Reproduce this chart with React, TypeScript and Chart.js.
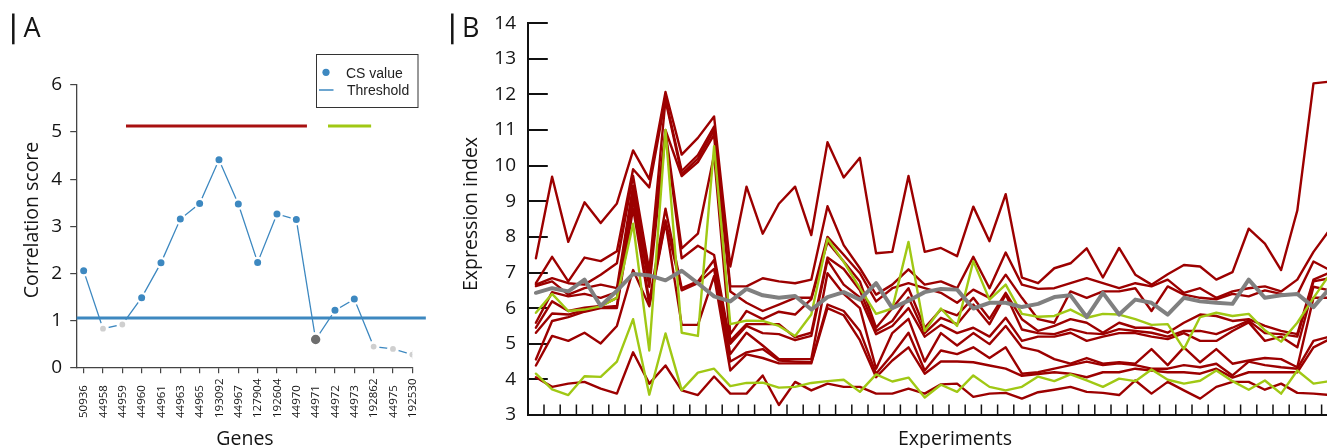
import React, { useEffect, useRef } from "react";
import { Chart, registerables } from "chart.js";
Chart.register(...registerables);

// ---------- Panel A data ----------
const genes = ["50936", "44958", "44959", "44960", "44961", "44963", "44965", "193092", "44967", "127904", "192604", "44970", "44971", "44972", "44973", "192862", "44975", "192530"];
const csValues = [2.05, 0.82, 0.91, 1.48, 2.22, 3.15, 3.48, 4.41, 3.47, 2.23, 3.26, 3.14, 0.59, 1.21, 1.45, 0.44, 0.39, 0.27];
const csGroup = ["in", "out", "out", "in", "in", "in", "in", "in", "in", "in", "in", "in", "target", "in", "in", "out", "out", "out"];
const threshold = 1.05;
const redCluster = [2.19, 11.55];
const greenCluster = [12.64, 14.87];
const clusterLevel = 5.13;
const yTicksA = [0, 1, 2, 3, 4, 5, 6];

// ---------- Panel B data ----------
const experiments = Array.from({ length: 50 }, (_, i) => String(i + 1));
const yTicksB = [3, 4, 5, 6, 7, 8, 9, 10, 11, 12, 13, 14];
const expRed1 = [7.40, 9.69, 7.86, 8.97, 8.39, 8.94, 10.43, 9.62, 12.07, 10.31, 10.78, 11.38, 7.17, 9.41, 8.09, 8.93, 9.41, 8.05, 10.66, 9.67, 10.22, 7.54, 7.58, 9.71, 7.58, 7.69, 7.46, 8.85, 7.88, 9.20, 6.86, 6.70, 7.12, 7.26, 7.68, 6.86, 7.69, 6.94, 6.66, 6.95, 7.21, 7.17, 6.80, 7.01, 8.23, 7.81, 7.07, 8.74, 12.31, 12.36];
const expRed2 = [6.70, 7.44, 6.75, 7.42, 7.32, 7.60, 9.90, 9.39, 11.89, 9.85, 10.30, 11.10, 6.61, 6.61, 6.84, 6.75, 6.70, 6.80, 8.86, 7.77, 7.12, 6.38, 6.66, 7.09, 6.66, 6.75, 6.56, 7.44, 6.56, 7.56, 6.66, 6.54, 6.56, 6.70, 6.84, 6.70, 6.56, 6.70, 6.61, 6.80, 6.43, 6.56, 6.29, 6.47, 6.56, 6.61, 6.47, 6.80, 7.58, 8.20];
const expRed3 = [6.66, 6.84, 6.70, 6.66, 6.94, 7.26, 9.71, 7.05, 11.84, 9.76, 10.20, 11.00, 6.47, 6.15, 5.92, 6.10, 6.29, 6.29, 8.00, 7.50, 6.98, 6.19, 6.56, 6.70, 6.56, 6.43, 6.15, 6.52, 6.29, 6.94, 6.29, 5.69, 5.59, 6.47, 6.29, 6.47, 6.47, 6.56, 5.92, 6.61, 6.38, 6.29, 6.25, 6.40, 6.33, 6.50, 6.40, 6.38, 7.31, 7.07];
const expRed4 = [6.62, 6.75, 6.38, 6.56, 6.66, 6.56, 9.44, 6.95, 11.00, 9.71, 10.10, 10.87, 5.27, 5.92, 5.69, 5.90, 5.82, 6.25, 7.86, 7.31, 6.75, 5.45, 6.00, 6.56, 5.45, 5.96, 5.80, 6.29, 5.70, 6.43, 5.69, 5.36, 5.50, 5.69, 5.59, 5.31, 5.59, 5.45, 5.45, 5.31, 5.59, 5.82, 5.78, 5.64, 5.69, 5.50, 5.36, 5.27, 6.80, 7.00];
const expRed5 = [5.59, 6.45, 6.33, 6.40, 6.29, 6.45, 9.34, 6.84, 10.95, 7.68, 8.09, 10.30, 5.08, 5.55, 5.55, 5.55, 5.18, 5.31, 7.42, 7.10, 6.50, 5.36, 5.64, 6.30, 5.30, 5.73, 5.55, 6.10, 5.55, 6.38, 5.40, 5.30, 5.27, 5.41, 5.30, 5.27, 5.41, 5.36, 5.31, 5.20, 5.36, 5.36, 5.27, 5.45, 5.65, 5.30, 5.27, 5.20, 6.75, 6.84];
const expRed6 = [5.45, 6.19, 5.92, 6.01, 6.06, 6.29, 9.20, 6.60, 10.87, 7.40, 7.75, 7.49, 5.00, 5.50, 5.30, 5.27, 5.10, 5.22, 7.35, 6.66, 6.30, 5.27, 5.50, 6.00, 5.20, 5.53, 5.30, 5.45, 5.20, 5.73, 5.08, 5.20, 5.20, 5.31, 5.08, 5.20, 5.30, 5.30, 5.20, 5.13, 5.30, 5.08, 5.08, 5.36, 5.60, 5.08, 5.20, 4.90, 6.60, 6.50];
const expRed7 = [5.31, 5.85, 5.82, 5.95, 6.02, 6.06, 9.06, 6.19, 8.79, 6.56, 6.75, 7.35, 4.71, 5.31, 4.95, 4.57, 4.57, 4.57, 6.98, 6.40, 6.00, 4.30, 5.30, 5.70, 4.50, 5.30, 4.95, 5.30, 4.99, 5.50, 4.90, 4.80, 4.57, 4.44, 4.60, 4.44, 4.48, 4.44, 4.85, 4.40, 4.90, 4.48, 4.85, 4.44, 4.53, 4.60, 4.57, 4.34, 6.29, 6.29];
const expRed8 = [4.56, 5.64, 5.75, 5.90, 6.00, 6.00, 8.80, 6.10, 8.46, 6.50, 6.70, 7.10, 4.50, 4.76, 4.85, 4.53, 4.50, 4.48, 6.10, 5.92, 5.36, 4.16, 4.70, 5.31, 4.25, 4.81, 4.71, 4.90, 4.60, 4.90, 4.16, 4.20, 4.30, 4.40, 4.50, 4.40, 4.45, 4.40, 4.30, 4.30, 4.40, 4.34, 4.44, 4.11, 4.50, 4.40, 4.34, 4.30, 5.08, 5.20];
const expRed9 = [4.39, 5.22, 5.08, 5.31, 5.01, 5.50, 7.07, 6.05, 8.40, 5.53, 5.53, 6.90, 4.25, 4.70, 4.60, 4.45, 4.45, 4.45, 6.00, 5.80, 5.10, 4.06, 4.53, 4.90, 4.16, 4.50, 4.50, 4.48, 4.39, 4.30, 4.10, 4.15, 4.20, 4.16, 4.06, 4.20, 4.20, 4.30, 4.25, 4.20, 4.20, 4.16, 4.30, 4.05, 4.20, 4.20, 4.20, 4.20, 4.90, 5.13];
const expRed10 = [4.06, 3.79, 3.88, 3.93, 3.74, 3.60, 4.76, 3.88, 4.39, 3.69, 3.56, 4.08, 3.60, 3.60, 4.11, 3.28, 3.93, 3.69, 3.88, 3.79, 3.79, 3.60, 3.60, 3.74, 3.60, 3.86, 3.88, 3.51, 3.60, 3.62, 3.46, 3.64, 3.71, 3.79, 3.65, 3.62, 3.56, 3.97, 3.60, 3.93, 3.69, 3.46, 3.79, 3.93, 3.93, 3.71, 3.88, 3.62, 3.60, 3.56];
const expGreen1 = [5.87, 6.40, 5.92, 5.96, 6.05, 6.29, 8.37, 4.81, 11.0, 5.31, 5.22, 10.55, 5.55, 5.65, 5.64, 5.50, 5.22, 5.82, 7.95, 7.30, 6.56, 5.84, 5.99, 7.86, 5.36, 5.99, 5.50, 7.32, 6.24, 6.66, 5.84, 5.76, 5.78, 5.96, 5.73, 5.84, 5.82, 5.69, 5.53, 5.55, 4.85, 5.75, 5.87, 5.78, 5.84, 5.38, 5.06, 5.59, 6.29, 6.95];
const expGreen2 = [4.16, 3.72, 3.56, 4.09, 4.07, 4.50, 5.69, 3.57, 5.29, 3.70, 4.19, 4.30, 3.81, 3.90, 3.91, 3.77, 3.79, 3.90, 3.95, 3.99, 3.65, 4.14, 3.94, 4.05, 3.49, 3.85, 3.65, 4.11, 3.79, 3.69, 3.79, 4.08, 3.95, 4.14, 3.97, 3.79, 4.02, 3.95, 4.28, 3.99, 3.88, 3.96, 4.25, 3.95, 3.71, 3.97, 3.60, 4.25, 3.88, 3.95];
const expGray = [6.43, 6.56, 6.47, 6.80, 6.06, 6.49, 6.96, 6.92, 6.78, 7.05, 6.70, 6.33, 6.19, 6.54, 6.36, 6.29, 6.34, 5.96, 6.31, 6.45, 6.24, 6.70, 6.00, 6.21, 6.45, 6.54, 6.52, 5.99, 6.15, 6.15, 6.03, 6.12, 6.31, 6.36, 5.75, 6.43, 5.82, 6.24, 6.15, 5.82, 6.29, 6.19, 6.15, 6.12, 6.80, 6.29, 6.36, 6.40, 6.03, 6.56];
const redSeries = [expRed1, expRed2, expRed3, expRed4, expRed5, expRed6, expRed7, expRed8, expRed9, expRed10];

// ---------- styles ----------
const BLUE = "#3d88c0";
const RED = "#9c0000";
const GREEN = "#a0c814";
const GRAY = "#808080";
const TEXT = "#141414";
const FONT = "'Open Sans', 'Noto Sans', sans-serif";

const panelAPlugin = {
  id: "panelA",
  afterDraw(chart: any) {
    const ctx = chart.ctx;
    const x = chart.scales.x;
    ctx.save();
    // panel label
    ctx.strokeStyle = TEXT;
    ctx.lineWidth = 2.5;
    ctx.beginPath();
    ctx.moveTo(13.3, 13.5);
    ctx.lineTo(13.3, 44.3);
    ctx.stroke();
    ctx.fillStyle = TEXT;
    ctx.font = `27px ${FONT}`;
    ctx.textAlign = "left";
    ctx.textBaseline = "alphabetic";
    ctx.fillText("A", 23.5, 36.8);
    // axis titles
    ctx.font = `19.5px ${FONT}`;
    ctx.textAlign = "center";
    ctx.fillText("Genes", 245, 444.5);
    ctx.save();
    ctx.translate(38, 220);
    ctx.rotate(-Math.PI / 2);
    ctx.fillText("Correlation score", 0, 0);
    ctx.restore();
    // rotated gene labels
    ctx.font = `11.5px ${FONT}`;
    ctx.textAlign = "left";
    ctx.textBaseline = "middle";
    genes.forEach((g, i) => {
      const px = x.getPixelForValue(i);
      ctx.save();
      ctx.translate(px, 418);
      ctx.rotate(-Math.PI / 2);
      ctx.fillText(g, 0, 0.5);
      ctx.restore();
    });
    // legend
    ctx.strokeStyle = "#333";
    ctx.lineWidth = 1;
    ctx.strokeRect(316.5, 54.5, 101.5, 53);
    ctx.fillStyle = BLUE;
    ctx.beginPath();
    ctx.arc(326, 72.3, 3.6, 0, Math.PI * 2);
    ctx.fill();
    ctx.strokeStyle = BLUE;
    ctx.lineWidth = 1.5;
    ctx.beginPath();
    ctx.moveTo(319, 90);
    ctx.lineTo(333.5, 90);
    ctx.stroke();
    ctx.fillStyle = "#222";
    ctx.font = "14px 'Liberation Sans', Arial, sans-serif";
    ctx.textAlign = "left";
    ctx.textBaseline = "alphabetic";
    ctx.fillText("CS value", 346, 78.3);
    ctx.fillText("Threshold", 347, 95);
    ctx.restore();
  },
};

const panelBPlugin = {
  id: "panelB",
  beforeDatasetsDraw(chart: any) {
    const ctx = chart.ctx;
    const { left, bottom } = chart.chartArea;
    const x = chart.scales.x;
    const y = chart.scales.y;
    ctx.save();
    ctx.strokeStyle = "#111";
    ctx.lineWidth = 2;
    yTicksB.slice(1).forEach((v) => {
      const py = Math.round(y.getPixelForValue(v)) + 0;
      ctx.beginPath();
      ctx.moveTo(left, py);
      ctx.lineTo(left + 20, py);
      ctx.stroke();
    });
    ctx.lineWidth = 1.5;
    for (let i = 1; i < experiments.length; i++) {
      const px = (x.getPixelForValue(i - 1) + x.getPixelForValue(i)) / 2;
      ctx.beginPath();
      ctx.moveTo(px, bottom);
      ctx.lineTo(px, bottom - 10.5);
      ctx.stroke();
    }
    ctx.restore();
  },
  afterDraw(chart: any) {
    const ctx = chart.ctx;
    ctx.save();
    ctx.strokeStyle = TEXT;
    ctx.lineWidth = 2.5;
    ctx.beginPath();
    ctx.moveTo(12.3, 13.5);
    ctx.lineTo(12.3, 44.3);
    ctx.stroke();
    ctx.fillStyle = TEXT;
    ctx.font = `27px ${FONT}`;
    ctx.textAlign = "left";
    ctx.textBaseline = "alphabetic";
    ctx.fillText("B", 22, 36.8);
    ctx.font = `19.5px ${FONT}`;
    ctx.textAlign = "center";
    ctx.fillText("Experiments", 515, 444.5);
    ctx.save();
    ctx.translate(37, 214);
    ctx.rotate(-Math.PI / 2);
    ctx.fillText("Expression index", 0, 0);
    ctx.restore();
    ctx.restore();
  },
};

function pointProp(inV: number, outV: number, tV: number) {
  return csGroup.map((g) => (g === "in" ? inV : g === "out" ? outV : tV));
}

export default function App() {
  const refA = useRef<HTMLCanvasElement>(null);
  const refB = useRef<HTMLCanvasElement>(null);

  useEffect(() => {
    const chartA = new Chart(refA.current as HTMLCanvasElement, {
      type: "line",
      data: {
        datasets: [
          {
            label: "Threshold",
            data: [{ x: -0.36, y: threshold }, { x: 17.7, y: threshold }],
            borderColor: BLUE,
            borderWidth: 3,
            pointRadius: 0,
            clip: false as any,
            order: 0,
          },
          {
            label: "CS value",
            data: genes.map((_, i) => ({ x: i, y: csValues[i] })),
            borderColor: BLUE,
            borderWidth: 1.3,
            pointRadius: pointProp(4.75, 4.4, 6.1),
            pointBorderWidth: pointProp(2.5, 3, 2.8),
            pointBackgroundColor: csGroup.map((g) => (g === "in" ? BLUE : g === "out" ? "#cfcfcf" : "#6e6e6e")),
            pointBorderColor: "#ffffff",
            order: 1,
          },
          {
            label: "red cluster",
            data: [{ x: redCluster[0], y: clusterLevel }, { x: redCluster[1], y: clusterLevel }],
            borderColor: "#a81010",
            borderWidth: 3,
            pointRadius: 0,
            order: 2,
          },
          {
            label: "green cluster",
            data: [{ x: greenCluster[0], y: clusterLevel }, { x: greenCluster[1], y: clusterLevel }],
            borderColor: GREEN,
            borderWidth: 3,
            pointRadius: 0,
            order: 2,
          },
        ],
      },
      options: {
        animation: false,
        responsive: false,
        events: [],
        layout: { padding: { top: 85, right: 27.7, left: 0, bottom: 0 } },
        plugins: { legend: { display: false }, tooltip: { enabled: false } },
        scales: {
          x: {
            type: "linear",
            min: -0.36,
            max: 17,
            afterBuildTicks: (s: any) => {
              s.ticks = genes.map((_, i) => ({ value: i }));
            },
            afterFit: (s: any) => {
              s.height = 80.7;
            },
            ticks: { display: false },
            grid: { display: true, drawOnChartArea: false, drawTicks: true, tickLength: 6, color: "#444", lineWidth: 1.2 },
            border: { display: true, color: "#444", width: 1.3 },
          },
          y: {
            type: "linear",
            min: 0,
            max: 6,
            afterBuildTicks: (s: any) => {
              s.ticks = yTicksA.map((v) => ({ value: v }));
            },
            afterFit: (s: any) => {
              s.width = 76.7;
            },
            ticks: { font: { family: FONT, size: 19 }, color: TEXT, padding: 8 },
            grid: { display: true, drawOnChartArea: false, drawTicks: true, tickLength: 6.5, color: "#444", lineWidth: 1.2 },
            border: { display: true, color: "#444", width: 1.3 },
          },
        },
      } as any,
      plugins: [panelAPlugin],
    });

    const lineBase = { pointRadius: 0, borderJoinStyle: "round", borderCapStyle: "round", tension: 0, fill: false };
    const chartB = new Chart(refB.current as HTMLCanvasElement, {
      type: "line",
      data: {
        labels: experiments,
        datasets: [
          { ...lineBase, label: "gray", data: expGray, borderColor: GRAY, borderWidth: 4, order: 0 },
          { ...lineBase, label: "green1", data: expGreen1, borderColor: GREEN, borderWidth: 2.4, order: 1 },
          { ...lineBase, label: "green2", data: expGreen2, borderColor: GREEN, borderWidth: 2.4, order: 1 },
          ...redSeries.map((d, i) => ({ ...lineBase, label: "red" + (i + 1), data: d, borderColor: RED, borderWidth: 2.4, order: 2 })),
        ] as any,
      },
      options: {
        animation: false,
        responsive: false,
        events: [],
        layout: { padding: { top: 19.3, right: 2.2, left: 0, bottom: 0 } },
        plugins: { legend: { display: false }, tooltip: { enabled: false } },
        scales: {
          x: {
            type: "category",
            offset: true,
            afterFit: (s: any) => {
              s.height = 33;
            },
            ticks: { display: false },
            grid: { display: false, drawTicks: false },
            border: { display: true, color: "#111", width: 2 },
          },
          y: {
            type: "linear",
            min: 3,
            max: 14,
            afterBuildTicks: (s: any) => {
              s.ticks = yTicksB.map((v) => ({ value: v }));
            },
            afterFit: (s: any) => {
              s.width = 87.8;
            },
            ticks: { font: { family: FONT, size: 19 }, color: TEXT, padding: 11.8 },
            grid: { display: false, drawTicks: false },
            border: { display: true, color: "#111", width: 2 },
          },
        },
      } as any,
      plugins: [panelBPlugin],
    });

    return () => {
      chartA.destroy();
      chartB.destroy();
    };
  }, []);

  return (
    <div style={{ position: "fixed", left: 0, top: 0, width: 1327, height: 448, overflow: "hidden", background: "#fff" }}>
      <canvas ref={refA} width={440} height={448} style={{ position: "absolute", left: 0, top: 0, width: 440, height: 448 }} />
      <canvas ref={refB} width={900} height={448} style={{ position: "absolute", left: 440, top: 0, width: 900, height: 448 }} />
    </div>
  );
}
